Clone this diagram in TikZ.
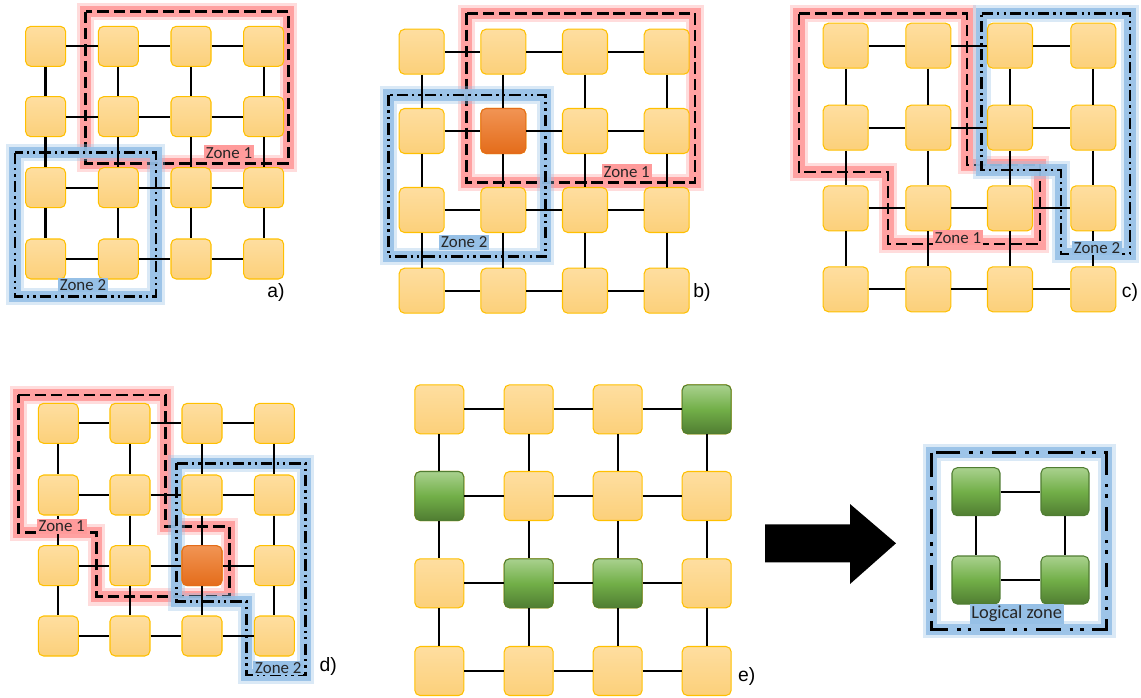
\documentclass[tikz,border=0pt]{standalone}
\usepackage{fontspec}
\setmainfont{Carlito}
\newfontfamily\panelfont{Liberation Sans}
\usepackage{tikz}
\usetikzlibrary{backgrounds}

\definecolor{TileTop}{RGB}{254,222,160}
\definecolor{TileBot}{RGB}{252,208,122}
\definecolor{TileRim}{RGB}{255,192,0}
\definecolor{HotTop}{RGB}{241,148,84}
\definecolor{HotBot}{RGB}{228,108,26}
\definecolor{LeafTop}{RGB}{169,209,142}
\definecolor{LeafMid}{RGB}{114,175,72}
\definecolor{LeafBot}{RGB}{80,125,50}
\definecolor{GlowRed}{RGB}{255,155,155}
\definecolor{GlowBlue}{RGB}{150,192,230}

\begin{document}
\begin{tikzpicture}[x=0.02cm, y=-0.02cm]
		\tikzstyle{Tile}	= [rectangle, rounded corners=3pt, draw=TileRim, line width=0.6pt, top color=TileTop, bottom color=TileBot, inner sep=0pt]
		\tikzstyle{Hot}		= [draw=HotBot, top color=HotTop, bottom color=HotBot]
		\tikzstyle{Leaf}	= [draw=LeafBot, top color=LeafTop, bottom color=LeafBot, middle color=LeafMid]
		\tikzstyle{Link}	= [line width=1.3pt, black]
		\tikzstyle{RedZone}	= [line width=1.5pt, dash pattern=on 6.5pt off 2.8pt,
			preaction={draw=GlowRed, solid, line width=10pt, opacity=0.35},
			preaction={draw=GlowRed, solid, line width=6.5pt, opacity=0.9}]
		\tikzstyle{BlueZone}	= [line width=1.5pt, dash pattern=on 6.5pt off 2.3pt on 1.3pt off 2.3pt on 1.3pt off 2.3pt,
			preaction={draw=GlowBlue, solid, line width=10pt, opacity=0.35},
			preaction={draw=GlowBlue, solid, line width=6.5pt, opacity=0.9}]
		\tikzstyle{RedTag}	= [fill=GlowRed, inner sep=1pt, text=black!85, font=\fontsize{9.6}{11}\selectfont]
		\tikzstyle{BlueTag}	= [fill=GlowBlue, inner sep=1pt, text=black!85, font=\fontsize{9.6}{11}\selectfont]
		\tikzstyle{Panel}	= [font=\panelfont\fontsize{11}{12}\selectfont]

		\useasboundingbox (0,0) rectangle (1141,697);

		% a)
		\foreach \i/\x in {0/45.6, 1/118.3, 2/191, 3/263.7}
			\foreach \j/\y in {0/46.3, 1/116.7, 2/187.7, 3/259}
				\node (a\i\j) at (\x, \y) [Tile, minimum size=0.8cm] {};
		\foreach \i/\k in {0/1, 1/2, 2/3}
			\foreach \j in {0,...,3} {
				\draw [-] (a\i\j) to (a\k\j) [Link];
				\draw [-] (a\j\i) to (a\j\k) [Link];
			}
		\begin{pgfonlayer}{background}
			\draw [RedZone] (85.7, 11.7) rectangle (288.7, 163.3);
			\draw [BlueZone] (15, 152.7) rectangle (156, 296.7);
		\end{pgfonlayer}
		\node (a-z1) at (229, 152.7) [RedTag] {Zone 1};
		\node (a-z2) at (83, 285) [BlueTag] {Zone 2};
		\node (a-tag) at (276, 292.7) [Panel] {a)};

		% b)
		\foreach \i/\x in {0/421.7, 1/503.3, 2/585, 3/666.7}
			\foreach \j/\y in {0/51.7, 1/131, 2/210, 3/290.7}
				\node (b\i\j) at (\x, \y) [Tile, minimum size=0.9cm] {};
		\node (b11) at (503.3, 131) [Tile, Hot, minimum size=0.9cm] {};
		\foreach \i/\k in {0/1, 1/2, 2/3}
			\foreach \j in {0,...,3} {
				\draw [-] (b\i\j) to (b\k\j) [Link];
				\draw [-] (b\j\i) to (b\j\k) [Link];
			}
		\begin{pgfonlayer}{background}
			\draw [RedZone] (466.7, 13.3) rectangle (695, 182.7);
			\draw [BlueZone] (388.3, 95) rectangle (545.7, 256.7);
		\end{pgfonlayer}
		\node (b-z1) at (626.7, 171.7) [RedTag] {Zone 1};
		\node (b-z2) at (464.3, 242.3) [BlueTag] {Zone 2};
		\node (b-tag) at (702, 292.7) [Panel] {b)};

		% c)
		\foreach \i/\x in {0/845.7, 1/928.3, 2/1010, 3/1093.3}
			\foreach \j/\y in {0/45.7, 1/127.7, 2/208.3, 3/289.3}
				\node (c\i\j) at (\x, \y) [Tile, minimum size=0.9cm] {};
		\foreach \i/\k in {0/1, 1/2, 2/3}
			\foreach \j in {0,...,3} {
				\draw [-] (c\i\j) to (c\k\j) [Link];
				\draw [-] (c\j\i) to (c\j\k) [Link];
			}
		\begin{pgfonlayer}{background}
			\draw [RedZone] (799, 13.3) -- (967, 13.3) -- (967, 165) -- (1040, 165) -- (1040, 244)
				-- (888, 244) -- (888, 172) -- (799, 172) -- cycle;
			\draw [BlueZone] (981.7, 13.3) -- (1130, 13.3) -- (1130, 254) -- (1061, 254)
				-- (1061, 170) -- (981.7, 170) -- cycle;
		\end{pgfonlayer}
		\node (c-z1) at (958, 237.7) [RedTag] {Zone 1};
		\node (c-z2) at (1097, 248) [BlueTag] {Zone 2};
		\node (c-tag) at (1130, 292.7) [Panel] {c)};

		% d)
		\foreach \i/\x in {0/58.3, 1/130, 2/202, 3/274.3}
			\foreach \j/\y in {0/423.3, 1/495, 2/565.7, 3/636}
				\node (d\i\j) at (\x, \y) [Tile, minimum size=0.8cm] {};
		\node (d22) at (202, 565.7) [Tile, Hot, minimum size=0.8cm] {};
		\foreach \i/\k in {0/1, 1/2, 2/3}
			\foreach \j in {0,...,3} {
				\draw [-] (d\i\j) to (d\k\j) [Link];
				\draw [-] (d\j\i) to (d\j\k) [Link];
			}
		\begin{pgfonlayer}{background}
			\draw [RedZone] (18.3, 395) -- (165.7, 395) -- (165.7, 526.7) -- (229.3, 526.7) -- (229.3, 596.7)
				-- (96.7, 596.7) -- (96.7, 532.7) -- (18.3, 532.7) -- cycle;
			\draw [BlueZone] (176.7, 463.3) -- (305.7, 463.3) -- (305.7, 675) -- (246.7, 675)
				-- (246.7, 601.7) -- (176.7, 601.7) -- cycle;
		\end{pgfonlayer}
		\node (d-z1) at (61.7, 526.5) [RedTag] {Zone 1};
		\node (d-z2) at (278.3, 668) [BlueTag] {Zone 2};
		\node (d-tag) at (328.3, 666.7) [Panel] {d)};

		% e)
		\foreach \i/\x in {0/439.3, 1/528.7, 2/617.7, 3/706.7}
			\foreach \j/\y in {0/409.3, 1/496, 2/583.3, 3/671}
				\node (e\i\j) at (\x, \y) [Tile, minimum size=0.98cm] {};
		\node (e30) at (706.7, 409.3) [Tile, Leaf, minimum size=0.98cm] {};
		\node (e01) at (439.3, 496) [Tile, Leaf, minimum size=0.98cm] {};
		\node (e12) at (528.7, 583.3) [Tile, Leaf, minimum size=0.98cm] {};
		\node (e22) at (617.7, 583.3) [Tile, Leaf, minimum size=0.98cm] {};
		\foreach \i/\k in {0/1, 1/2, 2/3}
			\foreach \j in {0,...,3} {
				\draw [-] (e\i\j) to (e\k\j) [Link];
				\draw [-] (e\j\i) to (e\j\k) [Link];
			}
		\node (e-tag) at (746.7, 676.7) [Panel] {e)};

		% arrow and logical zone
		\fill [black] (765, 524.3) -- (850, 524.3) -- (850, 504) -- (896, 543.3)
			-- (850, 584) -- (850, 562.3) -- (765, 562.3) -- cycle;

		\node (l1) at (976, 491.7) [Tile, Leaf, minimum size=0.96cm] {};
		\node (l2) at (1065, 491.7) [Tile, Leaf, minimum size=0.96cm] {};
		\node (l3) at (976, 580) [Tile, Leaf, minimum size=0.96cm] {};
		\node (l4) at (1065, 580) [Tile, Leaf, minimum size=0.96cm] {};
		\draw [-] (l1) to (l2) [Link];
		\draw [-] (l1) to (l3) [Link];
		\draw [-] (l2) to (l4) [Link];
		\draw [-] (l3) to (l4) [Link];
		\begin{pgfonlayer}{background}
			\draw [BlueZone, line width=1.6pt, dash pattern=on 14pt off 5pt on 2pt off 4pt on 2pt off 5pt]
				(931.7, 452.7) rectangle (1106.7, 629.3);
		\end{pgfonlayer}
		\node (l-z) at (1016.7, 614) [BlueTag, font=\fontsize{10.5}{12}\selectfont] {Logical zone};
	\end{tikzpicture}
\end{document}
